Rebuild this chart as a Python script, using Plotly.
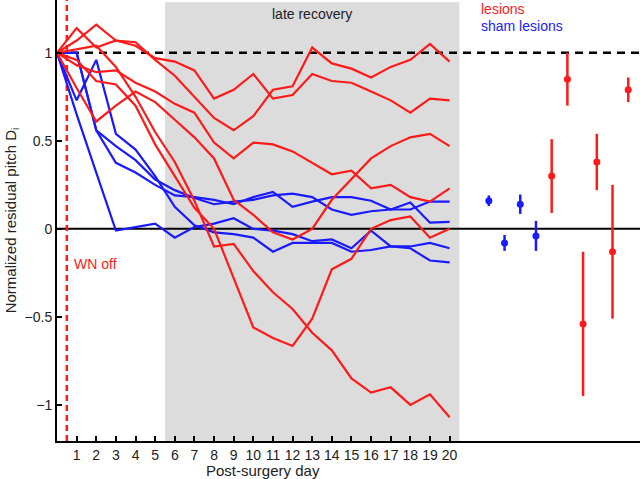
"""Normalized residual pitch after surgery: lesion vs sham lesion birds."""

import plotly.graph_objects as go

# ---------------------------------------------------------------------------
# Data
# ---------------------------------------------------------------------------

days = list(range(0, 21))
day_ticks = list(range(1, 21))

# per-bird trajectories (lesions, red)
lesion_1 = [1, 1.14, 1.03, 1.07, 1.04, 0.97, 0.95, 0.90, 0.74, 0.79, 0.88,
            0.74, 0.76, 0.88, 0.84, 0.83, 0.78, 0.73, 0.66, 0.74, 0.73]
lesion_2 = [1, 1.07, 1.16, 1.07, 1.06, 0.96, 0.87, 0.75, 0.63, 0.56, 0.64,
            0.79, 0.81, 1.03, 0.94, 0.91, 0.86, 0.92, 0.96, 1.05, 0.95]
lesion_3 = [1, 0.93, 0.89, 0.90, 0.83, 0.78, 0.71, 0.66, 0.49, 0.40, 0.49,
            0.48, 0.44, 0.375, 0.31, 0.33, 0.23, 0.25, 0.18, 0.155, 0.23]
lesion_4 = [1, 0.80, 0.61, 0.70, 0.78, 0.72, 0.62, 0.52, 0.40, 0.165, 0.08,
            -0.02, -0.06, 0.0, 0.165, 0.28, 0.40, 0.47, 0.52, 0.54, 0.47]
lesion_5 = [1, 0.96, 0.84, 0.82, 0.70, 0.48, 0.30, 0.12, 0.0, -0.28, -0.56,
            -0.62, -0.665, -0.51, -0.23, -0.17, 0.0, 0.05, 0.07, -0.05, 0.0]
lesion_6 = [1, 1.02, 1.04, 0.92, 0.75, 0.55, 0.38, 0.16, -0.10, -0.085, -0.24,
            -0.36, -0.455, -0.59, -0.69, -0.85, -0.93, -0.90, -1.0, -0.94, -1.07]

# per-bird trajectories (sham lesions, blue)
sham_1 = [1, 0.65, 0.32, -0.01, 0.01, 0.03, -0.05, 0.01, 0.03, 0.06, 0.0,
          -0.01, -0.03, -0.07, -0.06, -0.11, -0.01, -0.10, -0.11, -0.18, -0.19]
sham_2 = [1, 1.0, 0.56, 0.375, 0.32, 0.25, 0.19, 0.18, 0.165, 0.14, 0.18,
          0.21, 0.125, 0.155, 0.18, 0.18, 0.16, 0.11, 0.15, 0.035, 0.04]
sham_3 = [1, 0.73, 0.96, 0.54, 0.45, 0.30, 0.125, 0.02, -0.02, -0.03, -0.05,
          -0.13, -0.08, -0.08, -0.08, -0.13, -0.12, -0.10, -0.10, -0.08, -0.11]
sham_4 = [1, 1.0, 0.56, 0.47, 0.39, 0.28, 0.22, 0.175, 0.14, 0.155, 0.165,
          0.19, 0.20, 0.18, 0.11, 0.08, 0.10, 0.11, 0.11, 0.155, 0.155]

lesion_lines = [lesion_1, lesion_2, lesion_3, lesion_4, lesion_5, lesion_6]
sham_lines = [sham_1, sham_2, sham_3, sham_4]

# late-recovery summary (mean +/- error) per bird
sham_pos = [22.0, 22.8, 23.6, 24.4]
sham_mean = [0.16, -0.08, 0.14, -0.04]
sham_err = [0.03, 0.045, 0.055, 0.085]

lesion_pos = [25.2, 26.0, 26.8, 27.5, 28.3, 29.1]
lesion_mean = [0.30, 0.85, -0.54, 0.38, -0.13, 0.79]
lesion_err = [0.21, 0.15, 0.41, 0.16, 0.38, 0.07]

late_window = (5.5, 20.5)
wn_off_day = 0.5

RED = "#ff1a1a"
BLUE = "#1a1aff"
FONT = "Liberation Sans, Arial, sans-serif"

# ---------------------------------------------------------------------------
# Figure
# ---------------------------------------------------------------------------

fig = go.Figure()

# -- late recovery shading and reference lines -------------------------------
fig.add_shape(type="rect", xref="x", yref="paper",
              x0=late_window[0], x1=late_window[1], y0=0, y1=0.995,
              fillcolor="#dcdcdc", line=dict(width=0), layer="below")
fig.add_shape(type="line", xref="paper", yref="y", x0=0, x1=1, y0=1, y1=1,
              line=dict(color="black", width=2.5, dash="8px,6px"), layer="below")
fig.add_shape(type="line", xref="paper", yref="y", x0=0, x1=1, y0=0, y1=0,
              line=dict(color="black", width=2), layer="below")
fig.add_shape(type="line", xref="x", yref="paper", x0=wn_off_day, x1=wn_off_day,
              y0=0, y1=1, line=dict(color=RED, width=2.5, dash="6px,4px"),
              layer="below")

# -- trajectories ------------------------------------------------------------
for ys in sham_lines:
    fig.add_trace(go.Scatter(x=days, y=ys, mode="lines",
                             line=dict(color=BLUE, width=2.2), showlegend=False))
for ys in lesion_lines:
    fig.add_trace(go.Scatter(x=days, y=ys, mode="lines",
                             line=dict(color=RED, width=2.2), showlegend=False))

# -- late recovery summary ---------------------------------------------------
fig.add_trace(go.Scatter(
    x=sham_pos, y=sham_mean, mode="markers",
    marker=dict(color=BLUE, size=7),
    error_y=dict(type="data", array=sham_err, color=BLUE, thickness=2.5, width=0),
    showlegend=False,
))
fig.add_trace(go.Scatter(
    x=lesion_pos, y=lesion_mean, mode="markers",
    marker=dict(color=RED, size=7),
    error_y=dict(type="data", array=lesion_err, color=RED, thickness=2.5, width=0),
    showlegend=False,
))

# -- text --------------------------------------------------------------------
fig.add_annotation(x=13, y=1.22, xref="x", yref="y", text="late recovery",
                   showarrow=False, font=dict(size=14, color="#222222"))
fig.add_annotation(x=0.75, y=-0.2, xref="x", yref="y", text="WN off",
                   showarrow=False, xanchor="left",
                   font=dict(size=14, color=RED))
fig.add_annotation(x=21.5, y=1.25, xref="x", yref="y", text="lesions",
                   showarrow=False, xanchor="left", font=dict(size=14, color=RED))
fig.add_annotation(x=21.5, y=1.15, xref="x", yref="y", text="sham lesions",
                   showarrow=False, xanchor="left", font=dict(size=14, color=BLUE))
fig.add_annotation(x=10.5, y=0, xref="x", yref="paper", yanchor="middle",
                   yshift=-29, text="Post-surgery day", showarrow=False,
                   font=dict(size=15, color="#222222"))

# -- layout ------------------------------------------------------------------
fig.update_layout(
    width=640, height=479,
    margin=dict(l=57, r=0, t=0, b=38),
    plot_bgcolor="white", paper_bgcolor="white",
    font=dict(family=FONT, size=14, color="#222222"),
    xaxis=dict(
        range=[0, 29.7], tickvals=day_ticks, ticktext=[str(d) for d in day_ticks],
        ticks="inside", ticklen=5, tickwidth=1.5, tickcolor="black",
        showline=True, linecolor="black", linewidth=2,
        showgrid=False, zeroline=False, tickfont=dict(size=14),
    ),
    yaxis=dict(
        range=[-1.205, 1.30], tickvals=[-1, -0.5, 0, 0.5, 1],
        ticks="inside", ticklen=5, tickwidth=1.5, tickcolor="black",
        showline=True, linecolor="black", linewidth=2,
        showgrid=False, zeroline=False, tickfont=dict(size=14),
        title=dict(text="Normalized residual pitch D<sub>i</sub>",
                   font=dict(size=15), standoff=4),
    ),
)

# page body has a default 8px margin; drop it so the figure fills the window
fig.write_html("out.html", config={"displayModeBar": False},
               post_script="document.body.style.margin='0';")
